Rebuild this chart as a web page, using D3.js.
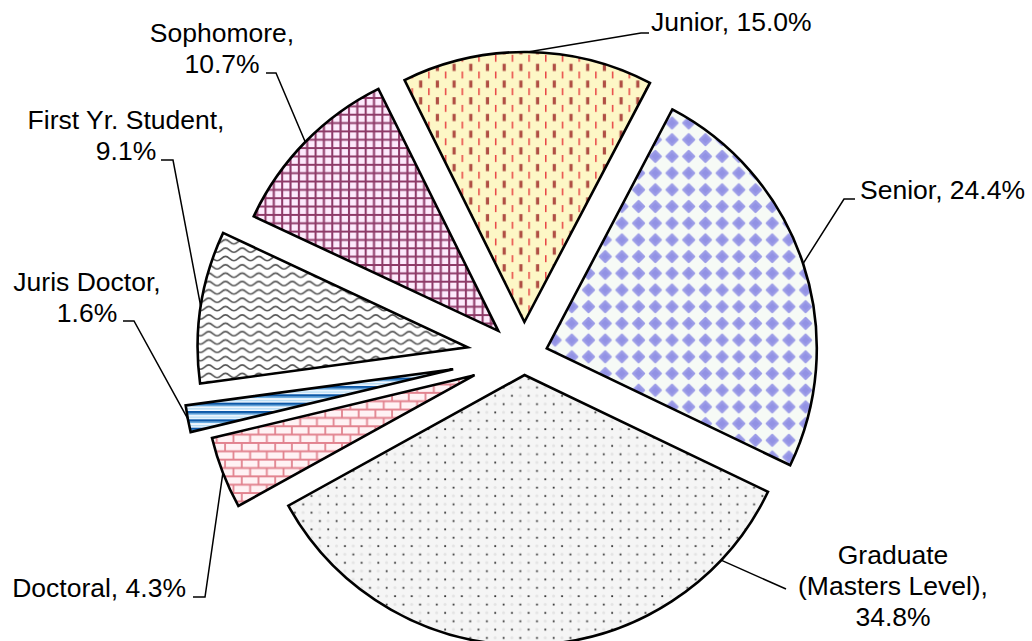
<!DOCTYPE html>
<html>
<head>
<meta charset="utf-8">
<script src="https://cdn.jsdelivr.net/npm/d3@7"></script>
<style>
	body { margin: 0; background: #fff; }
	.chart text { font-family: "Liberation Sans", Arial, sans-serif; font-size: 26.5px; fill: #000; }
</style>
</head>
<body>
<svg class="chart"></svg>
<script>
// data, clockwise from the top
var categories = ["Junior", "Senior", "Graduate (Masters Level)", "Doctoral", "Juris Doctor", "First Yr. Student", "Sophomore"];
var percents = [15.0, 24.4, 34.8, 4.3, 1.6, 9.1, 10.7];

var chartWidth = 1032;
var chartHeight = 641;
var cx = 524, cy = 356, radius = 270;
var startDeg = -26.35;
var tile = 16.7, half = tile / 2;

// how far each slice is pulled out, in px
var explode = [34, 24, 19, 53, 72, 57, 36];

// label placement (baseline of first line), leader elbow and end
var labelLayout = [
	{x: 651, y: 31, anchor: "start", wrap: 1, pts: [[641, 33], [649, 33]]},
	{x: 860, y: 199, anchor: "start", wrap: 1, pts: [[844, 199], [855, 199]]},
	{x: 893, y: 564, anchor: "middle", wrap: 3, angle: 133.3, pts: [[786, 589]]},
	{x: 186, y: 597, anchor: "end", wrap: 1, pts: [[205, 597], [193, 597]]},
	{x: 87, y: 291, anchor: "middle", wrap: 2, pts: [[134, 321], [123, 321]]},
	{x: 126, y: 129, anchor: "middle", wrap: 2, pts: [[173, 160], [161, 160]]},
	{x: 222, y: 42, anchor: "middle", wrap: 2, pts: [[276, 73], [266, 73]]}
];

var patternIds = ["pJunior", "pSenior", "pGrad", "pDoc", "pJuris", "pFirst", "pSoph"];

var svg = d3.select(".chart").attr("width", chartWidth).attr("height", chartHeight);
var defs = svg.append("defs");

function addPattern(id, bg, w, h) {
	var p = defs.append("pattern")
		.attr("id", id)
		.attr("patternUnits", "userSpaceOnUse")
		.attr("width", w || tile)
		.attr("height", h || tile);
	p.append("rect").attr("width", w || tile).attr("height", h || tile).attr("fill", bg);
	return p;
}

function buildPatterns() {
	// Junior - vertical dashes on light yellow
	var p = addPattern("pJunior", "#fdf7c6");
	p.append("rect").attr("x", 4).attr("y", 0).attr("width", 1.4).attr("height", 7).attr("fill", "#e6373a");
	p.append("rect").attr("x", 11.6).attr("y", 9).attr("width", 3.2).attr("height", 7.2).attr("fill", "#b04f44");

	// Senior - blue diamonds
	var s = 5.4;
	p = addPattern("pSenior", "#f6faf6");
	p.append("path")
		.attr("d", "M" + half + "," + (half - s) + "L" + (half + s) + "," + half + "L" + half + "," + (half + s) + "L" + (half - s) + "," + half + "Z")
		.attr("fill", "#9292e4").attr("stroke", "#9c9ce8").attr("stroke-width", 2.4).attr("stroke-linejoin", "round");

	// Graduate - small dots
	p = addPattern("pGrad", "#f5f5f5");
	p.append("circle").attr("cx", 4 + half).attr("cy", 4).attr("r", 1.5).attr("fill", "#e3e3e3");
	p.append("circle").attr("cx", 4).attr("cy", 4 + half).attr("r", 1.5).attr("fill", "#e3e3e3");
	p.append("rect").attr("x", 3.2).attr("y", 3.2).attr("width", 1.8).attr("height", 1.8).attr("fill", "#333");
	p.append("rect").attr("x", 3.2 + half).attr("y", 3.2 + half).attr("width", 1.8).attr("height", 1.8).attr("fill", "#333");

	// Doctoral - pink brick
	p = addPattern("pDoc", "#fff2f4");
	p.append("path")
		.attr("d", "M0,1H" + tile + "M0," + (1 + half) + "H" + tile + "M1,1V" + (1 + half) + "M" + (1 + half) + "," + (1 + half) + "V" + (1 + tile))
		.attr("stroke", "#e2838f").attr("stroke-width", 1.8).attr("fill", "none");
	p.append("path").attr("d", "M" + (1 + half) + ",0V1").attr("stroke", "#e2838f").attr("stroke-width", 1.8);

	// Juris Doctor - horizontal blue stripes
	p = addPattern("pJuris", "#f3f9ff", tile, half);
	p.append("rect").attr("y", 0).attr("width", tile).attr("height", 2.5).attr("fill", "#0b58a8");
	p.append("rect").attr("y", 2.5).attr("width", tile).attr("height", 1.3).attr("fill", "#6db0e4");
	p.append("rect").attr("y", 5.6).attr("width", tile).attr("height", 1.3).attr("fill", "#b0daf5");

	// First Yr. - grey waves
	p = addPattern("pFirst", "#ffffff");
	[3, 3 + half].forEach(function(y0) {
		var a = 2.2;
		p.append("path")
			.attr("d", "M0," + (y0 + a) + "C" + tile / 5 + "," + (y0 + a) + " " + (tile * 0.3) + "," + (y0 - a) + " " + half + "," + (y0 - a) +
				"C" + (tile * 0.7) + "," + (y0 - a) + " " + (tile * 0.8) + "," + (y0 + a) + " " + tile + "," + (y0 + a))
			.attr("stroke", "#555").attr("stroke-width", 1.6).attr("fill", "none");
	});

	// Sophomore - plum grid
	p = addPattern("pSoph", "#fdeafc");
	p.append("path")
		.attr("d", "M1,0V" + tile + "M" + (1 + half) + ",0V" + tile + "M0,1H" + tile + "M0," + (1 + half) + "H" + tile)
		.attr("stroke", "#8e3a68").attr("stroke-width", 2.1).attr("fill", "none");
}

function labelLines(i, wrap) {
	var pct = percents[i].toFixed(1) + "%";
	var name = categories[i];
	if (wrap == 1) return [name + ", " + pct];
	if (wrap == 2) return [name + ",", pct];
	var first = name.split(" ")[0];
	return [first, name.slice(first.length + 1) + ",", pct];
}

buildPatterns();

var pie = d3.pie()
	.sort(null)
	.startAngle(startDeg * Math.PI / 180)
	.endAngle(startDeg * Math.PI / 180 + 2 * Math.PI);

var arc = d3.arc().innerRadius(0).outerRadius(radius);
var arcs = pie(percents);

function offset(d) {
	var mid = (d.startAngle + d.endAngle) / 2;
	var e = explode[d.index];
	return [e * Math.sin(mid), -e * Math.cos(mid)];
}

var chart = svg.append("g").attr("transform", "translate(" + cx + "," + cy + ")");

// Add the slices
chart.selectAll("path.slice")
	.data(arcs)
	.enter().append("path")
	.attr("class", "slice")
	.attr("transform", function(d) { var o = offset(d); return "translate(" + o[0] + "," + o[1] + ")"; })
	.attr("d", arc)
	.attr("fill", function(d, i) { return "url(#" + patternIds[i] + ")"; })
	.attr("stroke", "#000")
	.attr("stroke-width", 2.6)
	.attr("stroke-linejoin", "miter");

// leader lines
var line = d3.line();
svg.selectAll("path.leader")
	.data(arcs)
	.enter().append("path")
	.attr("class", "leader")
	.attr("d", function(d, i) {
		var lay = labelLayout[i];
		var o = offset(d);
		var a = lay.angle != null ? lay.angle * Math.PI / 180 : (d.startAngle + d.endAngle) / 2;
		var start = [cx + o[0] + radius * Math.sin(a), cy + o[1] - radius * Math.cos(a)];
		return line([start].concat(lay.pts));
	})
	.attr("fill", "none")
	.attr("stroke", "#000")
	.attr("stroke-width", 1.5);

// Add data labels
svg.selectAll("text.label")
	.data(arcs)
	.enter().append("text")
	.attr("class", "label")
	.attr("text-anchor", function(d, i) { return labelLayout[i].anchor; })
	.each(function(d, i) {
		var lay = labelLayout[i];
		var t = d3.select(this);
		labelLines(i, lay.wrap).forEach(function(s, k) {
			t.append("tspan").attr("x", lay.x).attr("y", lay.y + k * 31).text(s);
		});
	});
</script>
</body>
</html>
